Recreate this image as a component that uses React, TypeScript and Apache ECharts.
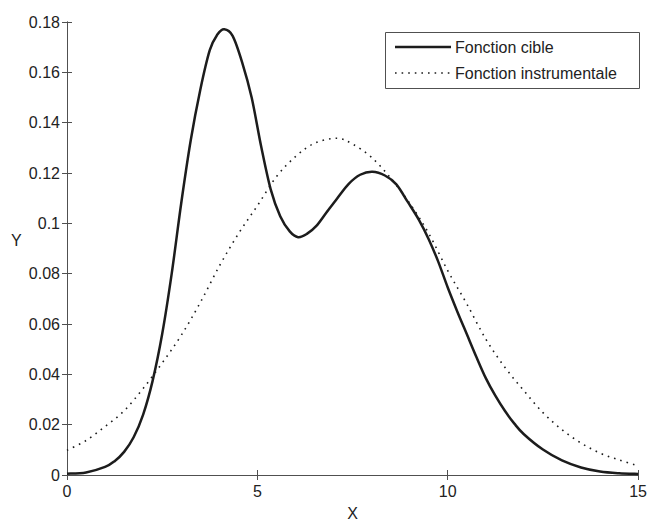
import React, { useEffect, useRef } from "react";
import * as echarts from "echarts";

const xCible = [0, 0.5, 1, 1.25, 1.5, 1.75, 2, 2.25, 2.5, 2.75, 3, 3.25, 3.5, 3.75, 3.95, 4.13, 4.35, 4.6, 4.85, 5.1, 5.35, 5.6, 5.85, 6.07, 6.3, 6.55, 6.8, 7.1, 7.4, 7.7, 8.02, 8.35, 8.65, 8.95, 9.25, 9.5, 9.75, 10, 10.25, 10.5, 10.75, 11, 11.25, 11.5, 11.75, 12, 12.5, 13, 13.5, 14, 14.5, 15];
const yCible = [0.0005, 0.001, 0.0032, 0.0055, 0.0092, 0.015, 0.024, 0.0375, 0.056, 0.08, 0.108, 0.133, 0.153, 0.1688, 0.175, 0.1771, 0.1745, 0.164, 0.15, 0.1305, 0.1135, 0.1028, 0.0968, 0.0945, 0.0958, 0.099, 0.104, 0.11, 0.1157, 0.1193, 0.1205, 0.119, 0.1155, 0.1085, 0.1012, 0.0937, 0.0848, 0.0745, 0.065, 0.056, 0.047, 0.0385, 0.0315, 0.0255, 0.0204, 0.0162, 0.0101, 0.0058, 0.003, 0.0014, 0.0007, 0.0004];

const xInstr = [0, 0.5, 1, 1.5, 2, 2.5, 3, 3.5, 4, 4.5, 5, 5.5, 6, 6.5, 7.09, 7.5, 8, 8.5, 9, 9.5, 10, 10.5, 11, 11.5, 12, 12.5, 13, 13.5, 14, 14.5, 15];
const yInstr = [0.0098, 0.0137, 0.0193, 0.0255, 0.0344, 0.0445, 0.0555, 0.0685, 0.083, 0.0958, 0.107, 0.1185, 0.1265, 0.1318, 0.1338, 0.1315, 0.1262, 0.118, 0.108, 0.096, 0.0812, 0.068, 0.054, 0.0428, 0.0335, 0.0248, 0.018, 0.0127, 0.0087, 0.006, 0.0036];

const seriesNames = ["Fonction cible", "Fonction instrumentale"];
const xAxisTitle = "X";
const yAxisTitle = "Y";

const FONT = "Liberation Sans, Arial, sans-serif";
const AXIS_COLOR = "#505050";
const LINE_COLOR = "#1c1c1c";
const TEXT_COLOR = "#222";

// Build a smooth (Catmull-Rom) SVG path through pixel points.
function smoothPath(pts: number[][]): string {
  if (!pts.length) return "";
  let d = `M${pts[0][0]},${pts[0][1]}`;
  for (let i = 0; i < pts.length - 1; i++) {
    const p0 = pts[i - 1] || pts[i];
    const p1 = pts[i];
    const p2 = pts[i + 1];
    const p3 = pts[i + 2] || p2;
    const c1x = p1[0] + (p2[0] - p0[0]) / 6;
    const c1y = p1[1] + (p2[1] - p0[1]) / 6;
    const c2x = p2[0] - (p3[0] - p1[0]) / 6;
    const c2y = p2[1] - (p3[1] - p1[1]) / 6;
    d += ` C${c1x},${c1y} ${c2x},${c2y} ${p2[0]},${p2[1]}`;
  }
  return d;
}

function curveSeries(name: string, xs: number[], ys: number[], style: any, z: number) {
  return {
    name,
    type: "custom",
    xAxisIndex: 0,
    yAxisIndex: 0,
    coordinateSystem: "cartesian2d",
    encode: { x: 0, y: 1 },
    data: xs.map((x, i) => [x, ys[i]]),
    silent: true,
    z,
    renderItem: (params: any, api: any) => {
      if (params.dataIndex !== 0) return null;
      const pts = xs.map((x, i) => api.coord([x, ys[i]]));
      return {
        type: "path",
        shape: { pathData: smoothPath(pts) },
        style: { fill: "none", stroke: LINE_COLOR, ...style },
      };
    },
  };
}

export default function App() {
  const ref = useRef<HTMLDivElement>(null);
  useEffect(() => {
    if (!ref.current) return;
    const chart = echarts.init(ref.current, undefined, { renderer: "svg" });
    const axisCommon = {
      axisLine: { show: true, lineStyle: { color: AXIS_COLOR, width: 1 } },
      axisTick: { show: true, inside: true, length: 5, lineStyle: { color: AXIS_COLOR } },
      splitLine: { show: false },
    };
    const lgX = 385;
    const lgY = 32;
    chart.setOption({
      animation: false,
      backgroundColor: "#ffffff",
      grid: { left: 67, right: 5, top: 22, bottom: 44, containLabel: false },
      xAxis: [
        {
          type: "value",
          min: 0,
          max: 15,
          interval: 5,
          position: "bottom",
          ...axisCommon,
          axisLabel: { fontFamily: FONT, fontSize: 16, color: TEXT_COLOR, margin: 8 },
          name: xAxisTitle,
          nameLocation: "middle",
          nameGap: 30,
          nameTextStyle: { fontFamily: FONT, fontSize: 16, color: TEXT_COLOR },
        },
        {
          type: "value",
          min: 0,
          max: 15,
          interval: 5,
          position: "top",
          ...axisCommon,
          axisLabel: { show: false },
        },
      ],
      yAxis: [
        {
          type: "value",
          min: 0,
          max: 0.18,
          interval: 0.02,
          position: "left",
          ...axisCommon,
          axisLabel: {
            fontFamily: FONT,
            fontSize: 16,
            color: TEXT_COLOR,
            margin: 7,
            formatter: (v: number) => String(+v.toFixed(2)),
          },
        },
        {
          type: "value",
          min: 0,
          max: 0.18,
          interval: 0.02,
          position: "right",
          ...axisCommon,
          axisLabel: { show: false },
        },
      ],
      graphic: [
        {
          type: "text",
          left: 11,
          top: 232,
          style: { text: yAxisTitle, fontFamily: FONT, fontSize: 16, fill: TEXT_COLOR },
        },
        {
          type: "group",
          z: 100,
          children: [
            {
              type: "rect",
              shape: { x: lgX + 0.5, y: lgY + 0.5, width: 254, height: 56 },
              style: { fill: "#ffffff", stroke: AXIS_COLOR, lineWidth: 1 },
            },
            {
              type: "line",
              shape: { x1: lgX + 10, y1: lgY + 15, x2: lgX + 66, y2: lgY + 15 },
              style: { stroke: LINE_COLOR, lineWidth: 2.5 },
            },
            {
              type: "text",
              x: lgX + 70,
              y: lgY + 15,
              style: {
                text: seriesNames[0],
                fontFamily: FONT,
                fontSize: 16,
                fill: TEXT_COLOR,
                verticalAlign: "middle",
              },
            },
            {
              type: "line",
              shape: { x1: lgX + 10, y1: lgY + 41, x2: lgX + 66, y2: lgY + 41 },
              style: { stroke: LINE_COLOR, lineWidth: 1.6, lineDash: [1.6, 5] },
            },
            {
              type: "text",
              x: lgX + 70,
              y: lgY + 41,
              style: {
                text: seriesNames[1],
                fontFamily: FONT,
                fontSize: 16,
                fill: TEXT_COLOR,
                verticalAlign: "middle",
              },
            },
          ],
        },
      ],
      series: [
        curveSeries(seriesNames[0], xCible, yCible, { lineWidth: 2.5, lineJoin: "round" }, 3),
        curveSeries(seriesNames[1], xInstr, yInstr, { lineWidth: 1.6, lineDash: [1.6, 5] }, 2),
      ],
    });
    return () => chart.dispose();
  }, []);
  return (
    <div
      ref={ref}
      style={{ position: "fixed", left: 0, top: 0, width: 650, height: 526, background: "#fff" }}
    />
  );
}
